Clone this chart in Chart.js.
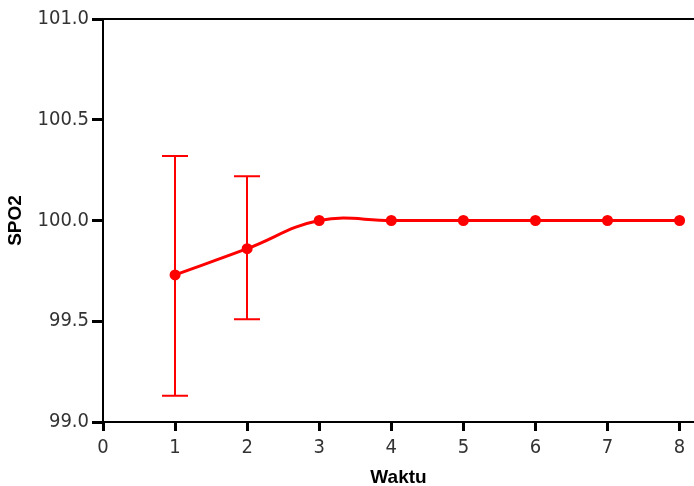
<!DOCTYPE html>
<html>
<head>
<meta charset="utf-8">
<script src="https://cdn.jsdelivr.net/npm/chart.js@4/dist/chart.umd.min.js"></script>
<style>
  html, body { margin: 0; padding: 0; background: #fff; }
  #wrap { width: 694px; height: 486px; }
</style>
</head>
<body>
<div id="wrap"><canvas id="spoChart"></canvas></div>
<script>
const waktu = [1, 2, 3, 4, 5, 6, 7, 8];
const spo2Mean = [99.73, 99.86, 100.0, 100.0, 100.0, 100.0, 100.0, 100.0];
const spo2Upper = [100.32, 100.22, null, null, null, null, null, null];
const spo2Lower = [99.13, 99.51, null, null, null, null, null, null];
const xTicks = [0, 1, 2, 3, 4, 5, 6, 7, 8];
const yTicks = [99.0, 99.5, 100.0, 100.5, 101.0];

const red = '#ff0000';
const tickFont = {family: "'DejaVu Sans Condensed', sans-serif", size: 20};
const titleFont = {family: "'Liberation Sans', Arial, sans-serif", size: 19, weight: 'bold'};

const errorBars = {
    id: 'errorBars',
    afterDatasetsDraw(chart) {
        const {ctx, scales: {x, y}} = chart;
        ctx.save();
        ctx.strokeStyle = red;
        ctx.lineWidth = 2;
        waktu.forEach((w, i) => {
            if (spo2Upper[i] == null) return;
            const px = Math.round(x.getPixelForValue(w)),
                top = y.getPixelForValue(spo2Upper[i]),
                bot = y.getPixelForValue(spo2Lower[i]);
            ctx.beginPath();
            ctx.moveTo(px, top); ctx.lineTo(px, bot);
            ctx.moveTo(px - 13, top); ctx.lineTo(px + 13, top);
            ctx.moveTo(px - 13, bot); ctx.lineTo(px + 13, bot);
            ctx.stroke();
        })
        // top frame line
        const area = chart.chartArea;
        ctx.strokeStyle = '#000';
        ctx.lineWidth = 2;
        ctx.beginPath();
        ctx.moveTo(area.left, area.top);
        ctx.lineTo(area.right, area.top);
        ctx.stroke();
        ctx.restore();
    }
}

new Chart(document.getElementById('spoChart'), {
    type: 'line',
    data: {
        datasets: [{
            data: waktu.map((w, i) => ({x: w, y: spo2Mean[i]})),
            borderColor: red,
            backgroundColor: red,
            borderWidth: 3,
            pointRadius: 4,
            pointHoverRadius: 4,
            tension: 0.4,
            clip: false
        }]
    },
    options: {
        responsive: true,
        maintainAspectRatio: false,
        animation: false,
        layout: {autoPadding: false, padding: {top: 19, right: 0, left: 0, bottom: 0}},
        plugins: {legend: {display: false}, tooltip: {enabled: false}},
        scales: {
            x: {
                type: 'linear',
                min: 0,
                max: 8.2,
                afterBuildTicks: s => { s.ticks = xTicks.map(v => ({value: v})) },
                afterFit: s => { s.height = 64; s.paddingRight = 0; s.paddingLeft = 0 },
                grid: {drawOnChartArea: false, drawTicks: true, tickLength: 9, tickWidth: 3, tickColor: '#000'},
                border: {display: true, color: '#000', width: 2},
                ticks: {color: '#333', font: tickFont, padding: 5},
                title: {display: true, text: 'Waktu', color: '#000', font: titleFont, padding: {top: 0, bottom: -3}}
            },
            y: {
                min: 99,
                max: 101,
                afterBuildTicks: s => { s.ticks = yTicks.map(v => ({value: v})) },
                afterFit: s => { s.width = 103 },
                grid: {drawOnChartArea: false, drawTicks: true, tickLength: 11, tickWidth: 3, tickColor: '#000'},
                border: {display: true, color: '#000', width: 2},
                ticks: {color: '#333', font: tickFont, padding: 3, callback: v => v.toFixed(1)},
                title: {display: true, text: 'SPO2', color: '#000', font: titleFont, padding: {top: 4, bottom: 0}}
            }
        }
    },
    plugins: [errorBars]
});
</script>
</body>
</html>
